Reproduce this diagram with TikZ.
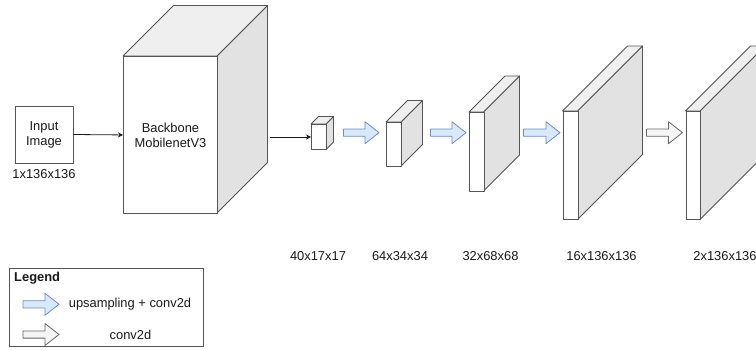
\documentclass[tikz,border=0pt]{standalone}
\usepackage{fontspec}
\setmainfont{Liberation Sans}
\usetikzlibrary{arrows.meta}

\definecolor{edge}{HTML}{555555}
\definecolor{topface}{HTML}{EFEFEF}
\definecolor{sideface}{HTML}{E2E2E2}
\definecolor{upfill}{HTML}{DAE8FC}
\definecolor{upline}{HTML}{6C8EBF}
\definecolor{convfill}{HTML}{F5F5F5}
\definecolor{convline}{HTML}{666666}
\definecolor{ink}{HTML}{1A1A1A}

\tikzset{
  faceline/.style={draw=edge, line width=0.9pt, line join=round},
  frontface/.style={faceline, fill=white, inner sep=0pt, anchor=north west},
  label/.style={font=\fontsize{12.9}{15}\selectfont, text=ink, inner sep=0pt, align=center},
  link/.style={draw=ink, line width=0.8pt, -{Stealth[length=5pt,width=5pt]}},
  upblock/.style={draw=upline, fill=upfill, line width=0.8pt, line join=round},
  convblock/.style={draw=convline, fill=convfill, line width=0.8pt, line join=round},
}

% layer volume: name, left, top, right, bottom, depth, text
\newcommand{\layercube}[7]{%
  \path[faceline, fill=sideface] (#4,#3) -- (#4+#6,#3-#6) -- (#4+#6,#5-#6) -- (#4,#5) -- cycle;
  \path[faceline, fill=topface] (#2,#3) -- (#2+#6,#3-#6) -- (#4+#6,#3-#6) -- (#4,#3) -- cycle;
  \node[frontface, label, minimum width={(#4-#2)*1pt}, minimum height={(#5-#3)*1pt}] (#1) at (#2,#3) {#7};
}

% block arrow: style, left end, centre line, length
\newcommand{\blockarrow}[4]{%
  \path[#1] (#2,#3-3.6) -- (#2+#4-14,#3-3.6) -- (#2+#4-14,#3-11) -- (#2+#4,#3)
    -- (#2+#4-14,#3+11) -- (#2+#4-14,#3+3.6) -- (#2,#3+3.6) -- cycle;
}

\begin{document}
\begin{tikzpicture}[x=1pt, y=-1pt]
  \useasboundingbox (0,0) rectangle (756,350);
  \clip (0,0) rectangle (756,350);

  % input
  \node[faceline, fill=white, minimum width=58pt, minimum height=57pt, inner sep=0pt] (input) at (44,134.5) {};
  \node[label] (inputtext) at (44,134.5) {Input\\Image};
  \node[label] (inputsize) at (44,174) {1x136x136};

  % backbone and feature volumes
  \layercube{backbone}{123}{56}{217}{213}{50.5}{Backbone\\MobilenetV3}
  \layercube{f1}{311}{124}{326}{149.5}{7.5}{}
  \layercube{f2}{386}{122}{401}{166}{21.5}{}
  \layercube{f3}{469}{112}{483.5}{191}{36}{}
  \layercube{f4}{562.5}{111}{577.5}{219.5}{65}{}
  \layercube{f5}{685.5}{111}{700}{219.5}{65}{}

  % plain connectors
  \draw[link] (input.east) -- (backbone.west);
  \coordinate (bbout) at (270,137);
  \draw[link] (bbout) -- (f1.west |- bbout);

  % block arrows between volumes
  \blockarrow{upblock}{343.5}{132.7}{35.5}
  \blockarrow{upblock}{430.5}{132.7}{35.5}
  \blockarrow{upblock}{523.5}{132.7}{36.5}
  \blockarrow{convblock}{646.5}{132.7}{36}

  % sizes
  \node[label] (s1) at (318,256) {40x17x17};
  \node[label] (s2) at (400,256) {64x34x34};
  \node[label] (s3) at (490.5,256) {32x68x68};
  \node[label] (s4) at (601.5,256) {16x136x136};
  \node[label] (s5) at (725,256) {2x136x136};

  % legend
  \node[draw=edge, line width=0.9pt, fill=white, inner sep=0pt, anchor=north west,
        minimum width=194pt, minimum height=77.5pt] (legend) at (8.5,268.5) {};
  \node[label, font=\fontsize{12.9}{15}\selectfont\bfseries, anchor=west] (legendtitle) at (14,278.5) {Legend};
  \blockarrow{upblock}{23}{304.3}{36}
  \node[label] (legup) at (130,304.3) {upsampling + conv2d};
  \blockarrow{convblock}{23}{334.5}{36}
  \node[label] (legconv) at (130.5,334.5) {conv2d};
\end{tikzpicture}
\end{document}
